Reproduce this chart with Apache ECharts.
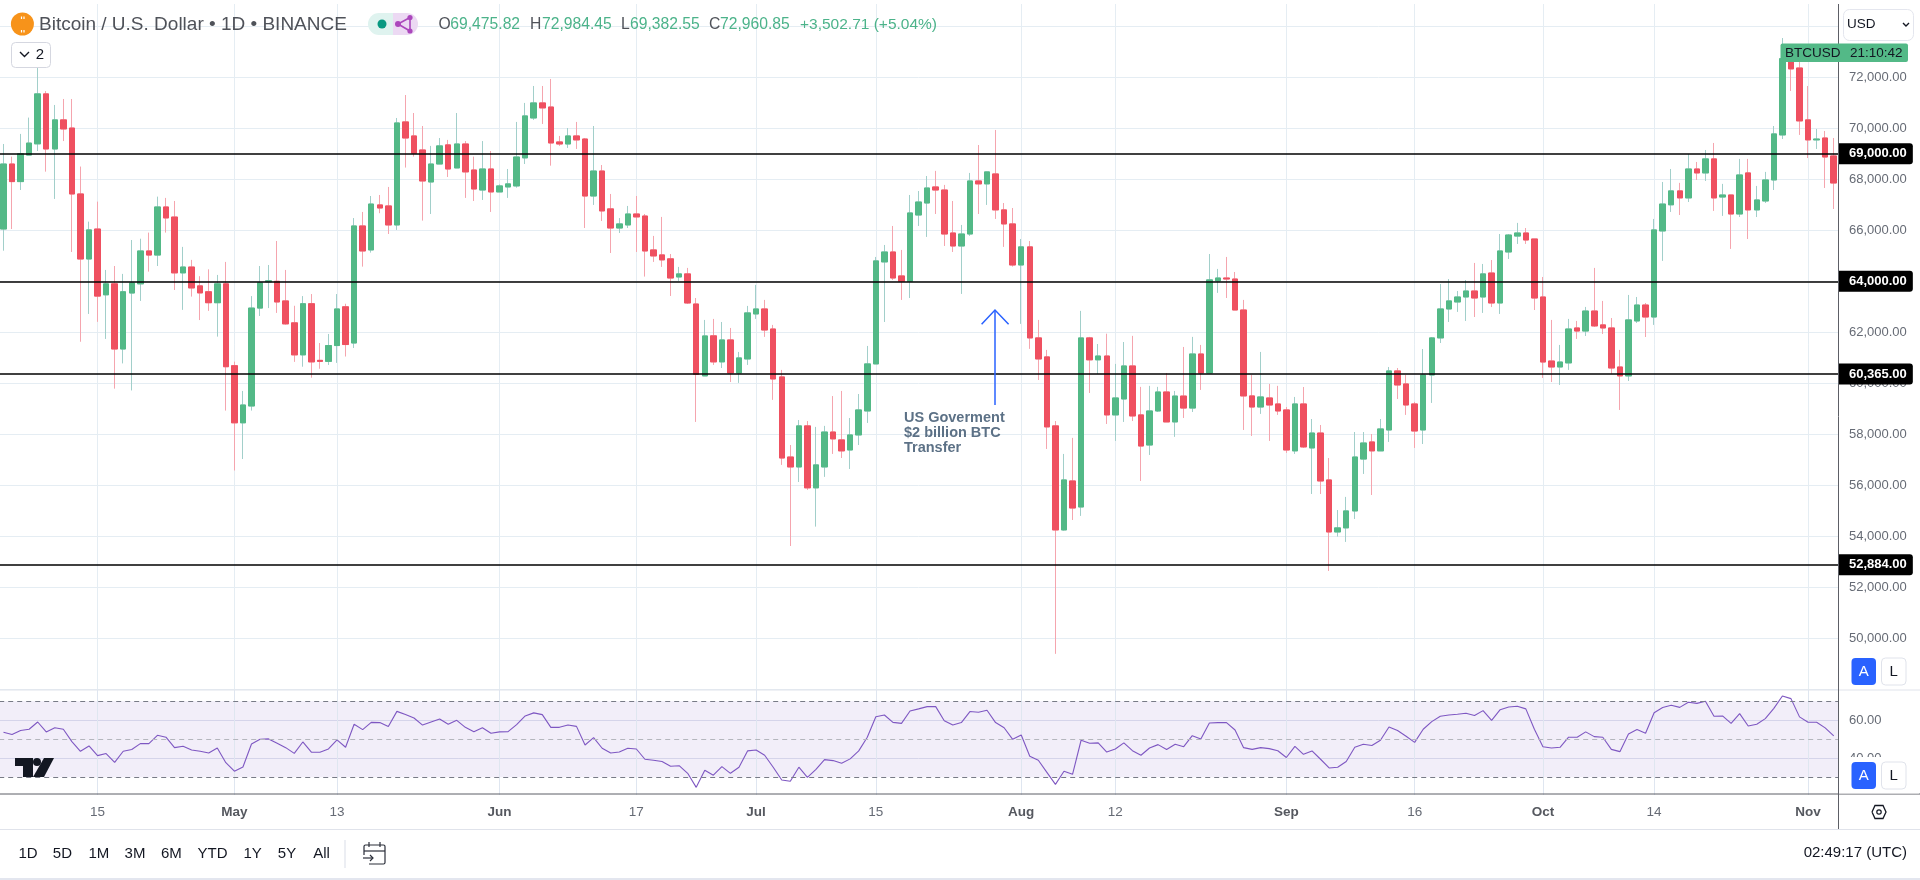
<!DOCTYPE html>
<html><head><meta charset="utf-8">
<style>html,body{margin:0;padding:0;background:#fff}#c{width:1920px;height:880px}</style>
<script src="https://cdn.jsdelivr.net/npm/echarts@6/dist/echarts.min.js"></script>
</head><body><div id="c"></div>
<script>
const startDate = '2024-04-04';
const opens = [
66050,68600,67910,68950,69390,71350,69190,70330,70010,67425,
64875,66050,63470,63900,61345,63540,63900,65190,65030,66915,
66520,64330,64560,63820,63590,63160,63900,60690,58450,59110,
62950,63980,64000,63230,62370,61115,63120,60900,60860,61480,
63000,61580,66170,65230,66995,66955,66210,70250,69700,69150,
67895,68600,69350,68445,69385,68365,67580,68405,67505,67700,
67740,68840,70405,70995,70835,69465,69385,69700,69580,67345,
68325,66840,66090,66210,66640,66560,65230,65035,64880,64170,
64290,63110,60290,61860,60840,61700,60405,60955,62720,62915,
62130,60250,57110,56720,58330,55900,56720,58090,57780,57385,
57975,58915,60760,64760,65150,64210,64000,66600,67070,67700,
67580,65895,65385,65855,67935,67820,68210,66800,66250,64640,
65350,61780,61035,58330,54250,56170,55150,61780,60920,61070,
58760,59385,60680,58760,57580,58915,59660,58485,59500,59030,
61150,60405,64015,64130,64090,62875,59505,59070,59425,59190,
58955,57350,59190,57465,58050,56210,54170,54330,54995,57030,
57700,57350,58170,60485,59975,59190,58170,60325,61780,62915,
63190,63385,63620,63385,64325,63150,65150,65775,65895,65660,
63385,60875,60640,60800,62170,62050,62835,62290,62170,60640,
60290,62445,63070,62600,65975,67000,67545,67270,68405,68250,
68800,67305,67385,66640,68250,66800,67150,67975,69740,72730,
72365,70330,69545,69620,68915];
const closes = [
68600,67910,69000,69420,71350,69190,70330,69975,67425,64875,
66015,63420,63900,61345,63590,63935,65190,65030,66915,66485,
64330,64560,63740,63545,63160,63900,60650,58450,59150,62950,
63940,64020,63190,62330,61115,63120,60840,60860,61480,62915,
61520,66170,65190,67030,66875,66210,70210,69620,69020,67935,
68600,69310,68405,69385,68290,67620,68405,67505,67740,67820,
68875,70485,70995,70800,69425,69385,69700,69545,67345,68325,
66760,66090,66250,66640,66525,65190,64995,64840,64130,64290,
63150,60355,61857,60840,61700,60405,60995,62760,62915,62090,
60170,57070,56720,58330,55900,56800,58090,57820,57350,57975,
58955,60760,64800,65150,64130,64000,66680,67110,67660,67580,
65855,65385,65855,67935,67820,68290,66800,66250,64640,65350,
61780,60955,58290,54250,56210,55110,61780,60920,61070,58760,
59425,60680,58720,57540,58915,59660,58485,59500,59030,61150,
60405,64055,64130,64090,62875,59505,59070,59465,59150,58915,
57385,59190,57505,58050,56170,54170,54330,54995,57110,57660,
57350,58210,60485,59935,59150,58130,60325,61780,62915,63230,
63385,63620,63345,64290,63150,65190,65815,65895,65620,63345,
60835,60640,60835,62130,62050,62835,62250,62170,60600,60290,
62485,63070,62600,66015,67030,67545,67270,68405,68250,68800,
67270,67385,66640,68170,66800,67190,67975,69780,72730,72330,
70290,69545,69580,68875,67855];
const highs = [
69385,68890,69780,70420,72390,71460,70915,71150,71150,68500,
66340,67125,64445,64600,64290,65620,65670,65910,67320,67270,
67150,65350,64840,64200,64470,64250,64760,60850,59700,63420,
64600,64640,65580,64445,63040,63420,63500,61580,61935,63500,
63120,66480,66720,67345,67385,67700,70405,71305,70600,70090,
69310,69620,69545,70600,69500,68890,69500,69110,67800,68405,
70250,70995,71660,71660,71935,69700,70010,70250,69620,70090,
68560,67425,66480,66955,67345,66640,65780,66525,65070,64565,
64525,63345,62485,62525,62405,62170,61230,63035,63860,63270,
62290,60525,57580,58560,58520,58290,58330,59500,59700,58640,
59580,61465,64955,65425,66170,65230,67385,67540,68130,68330,
67780,67150,66210,68250,69345,68300,69935,67070,66875,65660,
65580,62485,61310,58520,57230,57860,62840,61820,61540,61945,
60760,61620,61860,59860,59900,59860,60405,59700,61425,61820,
61505,65070,64485,64955,64365,63270,60330,61230,59975,59900,
59070,59465,59855,58600,58365,57070,55030,55545,58090,58090,
58010,58600,60640,60600,60325,59270,61345,61815,63895,64090,
63620,64050,64720,64680,64835,65855,65855,66290,66090,65660,
64170,62485,61505,62525,62445,62995,64525,63230,62560,61310,
63465,63385,63150,66445,67895,68405,67860,68995,68680,69150,
69425,67820,67385,68800,68800,67740,68290,70090,73540,72800,
72615,71660,69975,69895,69620];
const lows = [
65200,66050,67580,68950,69110,68300,67230,69500,65150,61630,
62720,62410,61740,59790,60780,59720,63230,64380,64600,65910,
63660,62880,63400,62480,62840,61830,58930,56580,57030,58930,
62640,62950,62760,62300,60840,60650,60220,60570,60720,60800,
61050,61385,64575,65125,66670,65855,66015,68460,68890,66380,
66640,68600,68090,68445,67270,67150,67190,66720,67505,67270,
67670,68600,70330,70170,68535,69310,69230,69190,66090,66995,
66365,65110,65895,66090,65150,64185,64760,64565,63425,64015,
63110,58485,60290,60720,60600,60050,60015,60720,62525,61820,
59350,56800,53620,56130,55820,54380,56330,57230,57070,56640,
57580,58445,60760,62405,64050,63270,63345,66170,65740,66640,
65385,65150,63505,65780,66640,66995,66445,65350,64575,62330,
61350,60130,57425,49390,54220,54640,54800,59620,60365,58405,
57740,58485,58520,56170,57190,58875,58485,57900,58640,58875,
59740,60405,63545,63345,62875,58170,57935,58800,57740,58760,
57270,57230,57465,55660,55660,52640,53990,53780,54680,56445,
55620,57350,57700,59385,58760,57465,57620,59230,61580,62405,
62800,62445,62600,62760,62990,62720,64875,65465,65465,62875,
60210,60050,59935,60525,61740,61855,62210,61935,60365,58955,
60090,62365,61815,62290,64800,66720,66600,67110,67975,67935,
66760,66565,65270,66520,65660,66520,67070,67580,69580,71465,
69740,68835,69190,67660,66835];
const rsi = [
53.7,52.5,54.6,55.3,59.1,53.9,56.1,55.3,48.8,43.7,
46.5,41.4,42.5,37.9,43.7,44.6,47.7,47.7,52.1,51.1,
45.6,46.3,44.4,43.7,42.8,45.4,37.7,33.2,35.4,47.5,
50.0,50.2,47.9,45.6,42.6,48.6,43.2,43.2,44.9,49.7,
45.8,57.9,55.1,58.9,58.8,56.7,64.7,63.0,61.2,57.5,
59.1,60.7,57.9,60.0,56.3,54.0,56.1,53.2,53.9,54.0,
57.7,62.3,63.9,63.0,56.3,56.3,57.5,56.8,47.0,50.9,
45.3,42.8,43.3,45.3,44.9,39.5,39.0,38.3,35.8,36.1,
32.1,24.7,33.7,31.1,35.6,32.1,35.3,43.9,44.4,41.6,
35.3,28.6,27.9,35.3,30.0,34.2,39.3,38.8,37.4,39.7,
43.9,51.1,61.9,62.8,58.9,58.4,64.9,66.0,67.2,67.2,
59.8,57.5,58.8,64.6,64.2,65.3,58.8,56.1,50.0,52.3,
41.1,39.0,32.6,26.3,33.2,31.6,49.5,47.9,48.1,43.3,
44.9,48.1,44.0,41.6,45.4,47.2,44.6,47.4,46.1,51.9,
50.2,58.6,58.8,58.8,54.9,45.6,44.7,45.6,45.1,44.0,
40.4,46.3,42.1,43.9,39.5,34.9,35.3,38.3,45.8,47.4,
46.7,49.5,56.5,54.6,51.6,48.4,55.3,59.3,62.1,62.8,
63.2,63.7,62.5,65.1,60.0,65.6,67.0,67.4,66.0,55.3,
46.1,45.4,45.8,51.1,51.1,53.9,51.4,51.1,44.7,43.5,
52.8,55.1,53.2,64.0,66.7,67.9,66.8,69.5,68.9,70.0,
62.1,62.3,58.4,63.5,57.0,57.9,60.9,66.3,72.8,71.4,
61.8,59.0,59.0,56.0,51.8];
const priceLevels = [69000, 64000, 60365, 52884];
const tickDates = ['2024-04-15','2024-05-01','2024-05-13','2024-06-01','2024-06-17','2024-07-01','2024-07-15','2024-08-01','2024-08-12','2024-09-01','2024-09-16','2024-10-01','2024-10-14','2024-11-01'];
const tickLabels = ['15','May','13','Jun','17','Jul','15','Aug','12','Sep','16','Oct','14','Nov'];
const rangeButtons = ['1D','5D','1M','3M','6M','YTD','1Y','5Y','All'];

const FONT = '"Liberation Sans", Arial, sans-serif';
const GREEN='#53b987', RED='#ef5060', GREEN_W='#a2cfca', RED_W='#f5a5ae';
const GRIDC='#e5edf3', AXC='#666b75', DARK='#131722', LINE='#e0e3eb';

const categories = opens.map((_,i)=>{const d=new Date(Date.parse(startDate+'T00:00:00Z')+i*864e5);return d.toISOString().slice(0,10);});
const tickAt = {}; tickDates.forEach((d,i)=>{tickAt[d]=tickLabels[i];});
const isTick = (i)=>tickAt[categories[i]]!==undefined;
const fullData = opens.map((o,i)=>[o,closes[i],lows[i],highs[i]]);
const bodyData = opens.map((o,i)=>[o,closes[i],Math.min(o,closes[i]),Math.max(o,closes[i])]);
const money = (v)=>v.toLocaleString('en-US',{minimumFractionDigits:2,maximumFractionDigits:2});

function T(x,y,text,fs,fill,opt){opt=opt||{};return {type:'text',z:110,silent:true,style:{x,y,text,fill,font:(opt.w||'normal')+' '+fs+'px '+FONT,textAlign:opt.a||'left',textVerticalAlign:'middle'}};}
function R(x,y,w,h,fill,opt){opt=opt||{};return {type:'rect',z:opt.z||100,silent:true,shape:{x,y,width:w,height:h,r:opt.r||0},style:{fill,stroke:opt.s||null,lineWidth:opt.lw||1}};}
function L(x1,y1,x2,y2,c,w,z){return {type:'line',z:z||105,silent:true,shape:{x1,y1,x2,y2},style:{stroke:c,lineWidth:w||1}};}
function P(pts,c,w,fill){return {type:fill?'polygon':'polyline',z:111,silent:true,shape:{points:pts},style:fill?{fill:c}:{stroke:c,lineWidth:w||1.5,fill:null}};}
function C(x,y,r,fill,s){return {type:'circle',z:111,silent:true,shape:{cx:x,cy:y,r},style:{fill,stroke:s||null}};}

const rangeX=[28,62.4,98.8,135,171.4,212.6,252.7,287,321.6];
const g=[
 R(0,0,1838,4,'#fff',{z:50}),
 R(0,795,1838,3,'#fff',{z:50}),
 L(0,690,1920,690,LINE,1,60), L(0,794,1920,794,'#5d5f66',1,60), L(0,829.5,1920,829.5,LINE,1.2,60),
 R(0,878,1920,2,'#e3e6ef',{z:60}),
 L(1838.5,4,1838.5,829,'#5d5f66',1,60),
 C(22.4,24,11.5,'#f7931a'),
 T(22.6,24.5,'B',14,'#fff',{a:'center',w:'bold'}),
 L(21.5,16.5,21.5,19,'#fff',1.2,112), L(24,16.5,24,19,'#fff',1.2,112), L(21.5,30,21.5,32.5,'#fff',1.2,112), L(24,30,24,32.5,'#fff',1.2,112),
 T(39,25,'Bitcoin / U.S. Dollar • 1D • BINANCE',19,'#4f5259'),
 R(368,13,25,22,'#dff3ef',{r:[11,0,0,11]}),
 R(393,13,25,22,'#ecd9f3',{r:[0,11,11,0]}),
 C(382,24,4.5,'#089981'),
 P([[410,17.5],[398,24],[410,31],[410,17.5]],'#ab47bc',1.6), C(398,24,3,'#ab47bc'), C(410,17.5,2.6,'#ab47bc'), C(410,31,2.6,'#ab47bc'),
 T(438.5,25,'O',15.7,'#4f5259'), T(450.3,25,'69,475.82',15.7,'#4cb38a'),
 T(530,25,'H',15.7,'#4f5259'), T(542,25,'72,984.45',15.7,'#4cb38a'),
 T(621,25,'L',15.7,'#4f5259'), T(630,25,'69,382.55',15.7,'#4cb38a'),
 T(709,25,'C',15.7,'#4f5259'), T(720,25,'72,960.85',15.7,'#4cb38a'),
 T(800,25,'+3,502.71 (+5.04%)',15.5,'#4cb38a'),
 R(11.5,42.5,39,25,'#fff',{r:4,s:'#d5d7e0'}),
 P([[20,52],[24.5,56.5],[29,52]],DARK,1.4),
 T(40,55,'2',15,DARK,{a:'center'}),
 R(1843.5,9.5,70,31,'#fff',{r:6,s:'#e4e6ee'}),
 T(1847,24,'USD',13.5,DARK),
 P([[1903,23],[1906,26],[1909,23]],DARK,1.4),
 R(1780.5,43.5,57.5,18.5,GREEN,{r:[2,0,0,2]}),
 R(1838,43.5,70,18.5,GREEN,{r:[0,2,2,0]}),
 T(1785,52.8,'BTCUSD',13.5,DARK),
 T(1850,52.8,'21:10:42',13.5,DARK),
 L(995,310,995,405,'#2962ff',1.5,106),
 P([[981.6,324.3],[995,310],[1008.6,324.3]],'#2962ff',1.5),
 T(904,417.7,'US Goverment',14.5,'#5c7186',{w:'bold'}),
 T(904,432.7,'$2 billion BTC',14.5,'#5c7186',{w:'bold'}),
 T(904,448,'Transfer',14.5,'#5c7186',{w:'bold'}),
 R(1839,655,80,33,'#fff',{z:95}),
 R(1851.5,658,24.5,27,'#2962ff',{r:4}), T(1863.7,672,'A',15,'#fff',{a:'center'}),
 R(1881.5,658,24.5,27,'#fff',{r:4,s:LINE}), T(1893.7,672,'L',15,DARK,{a:'center'}),
 R(1839,757,80,36.5,'#fff',{z:95}),
 R(1851.5,762,24.5,27,'#2962ff',{r:4}), T(1863.7,776,'A',15,'#fff',{a:'center'}),
 R(1881.5,762,24.5,27,'#fff',{r:4,s:LINE}), T(1893.7,776,'L',15,DARK,{a:'center'}),
 P([[1872,812],[1875,805.5],[1883,805.5],[1886,812],[1883,818.5],[1875,818.5],[1872,812]],DARK,1.3),
 {type:'circle',z:111,silent:true,shape:{cx:1879,cy:812,r:2.2},style:{fill:null,stroke:DARK,lineWidth:1.2}},
 P([[15,758],[33,758],[33,777],[23,777],[23,766],[15,766]],DARK,1,true),
 C(37,762,4,DARK),
 P([[44,758],[54,758],[44,777],[33,777]],DARK,1,true),
 L(345,840,345,868,LINE,1.2,60),
 {type:'rect',z:111,silent:true,shape:{x:364,y:845,width:21,height:19,r:1.5},style:{fill:null,stroke:'#2a2e39',lineWidth:1.2}},
 L(364,851,385,851,'#2a2e39',1.2,111), L(369,842,369,847,'#2a2e39',1.2,111), L(380,842,380,847,'#2a2e39',1.2,111),
 R(361,855,8,10,'#fff',{z:111}),
 P([[363,858],[373,858]],'#2a2e39',1.2), P([[370,855],[373,858],[370,861]],'#2a2e39',1.2),
 T(1907,853,'02:49:17 (UTC)',15,DARK,{a:'right'})
];
rangeButtons.forEach((t,i)=>g.push(T(rangeX[i],853.5,t,15,DARK,{a:'center'})));

const vLines=(color)=>({silent:true,symbol:'none',animation:false,z:1,label:{show:false},lineStyle:{color,width:1,type:'solid'},data:tickDates.map(d=>({xAxis:d}))});

const chart=echarts.init(document.getElementById('c'),null,{renderer:'canvas',width:1920,height:880});
chart.setOption({
 animation:false,backgroundColor:'#fff',
 textStyle:{fontFamily:FONT},
 grid:[{left:-0.8,width:1838.8,top:-24.7,height:714,containLabel:false,outerBoundsMode:'none'},{left:-0.8,width:1838.8,top:689.9,height:106.4,containLabel:false,outerBoundsMode:'none'}],
 xAxis:[
  {type:'category',gridIndex:0,data:categories,boundaryGap:true,axisLine:{show:false},axisTick:{show:false},axisLabel:{show:false},splitLine:{show:false}},
  {type:'category',gridIndex:1,data:categories,boundaryGap:true,axisLine:{show:false},axisTick:{show:false},splitLine:{show:false},
   axisLabel:{show:true,interval:(i)=>isTick(i),margin:9,fontSize:13.5,color:AXC,hideOverlap:false,
    formatter:(v)=>{const t=tickAt[v];if(!t)return '';return /[A-Za-z]/.test(t)?'{m|'+t+'}':t;},
    rich:{m:{fontWeight:'bold',fontSize:13.5,color:'#55585f'}}}}
 ],
 yAxis:[
  {type:'value',gridIndex:0,position:'right',min:48000,max:76000,interval:2000,
   axisLine:{show:false},axisTick:{show:false},
   axisLabel:{margin:11,fontSize:13,color:AXC,formatter:(v)=>(v>=50000&&v<=72000)?money(v):''},
   splitLine:{show:true,lineStyle:{color:GRIDC,width:1}}},
  {type:'value',gridIndex:1,position:'right',min:20,max:76,interval:20,
   axisLine:{show:false},axisTick:{show:false},
   axisLabel:{margin:11,fontSize:13,color:AXC,formatter:(v)=>(v===40||v===60)?v.toFixed(2):''},
   splitLine:{show:true,showMinLine:false,showMaxLine:false,lineStyle:{color:'#dfe3ef',width:1}}}
 ],
 series:[
  {type:'line',name:'priceTimeGrid',xAxisIndex:0,yAxisIndex:0,z:1,data:[],silent:true,markLine:vLines(GRIDC)},
  {type:'line',name:'rsiTimeGrid',xAxisIndex:1,yAxisIndex:1,z:1,data:[],silent:true,markLine:vLines('#dfe6f0')},
  {type:'candlestick',name:'wicks',xAxisIndex:0,yAxisIndex:0,z:2,barWidth:6,data:fullData,silent:true,
   itemStyle:{color:GREEN,color0:RED,borderColor:GREEN_W,borderColor0:RED_W,borderWidth:1}},
  {type:'candlestick',name:'bodies',xAxisIndex:0,yAxisIndex:0,z:3,barWidth:6,data:bodyData,silent:true,
   itemStyle:{color:GREEN,color0:RED,borderColor:GREEN,borderColor0:RED,borderWidth:1},
   markLine:{silent:true,symbol:'none',animation:false,z:4,precision:0,
    lineStyle:{color:'#000',width:1.5,type:'solid'},
    label:{show:true,position:'end',distance:1,formatter:(p)=>money(p.value),color:'#fff',fontWeight:'bold',fontSize:13,fontFamily:FONT,
     backgroundColor:'#000',padding:[4,6,4,10],borderRadius:[0,3,3,0]},
    data:priceLevels.map(v=>({yAxis:v}))}},
  {type:'line',name:'RSI',xAxisIndex:1,yAxisIndex:1,z:3,data:rsi,showSymbol:false,symbol:'none',smooth:false,silent:true,
   lineStyle:{color:'#7e57c2',width:1.1},
   markArea:{silent:true,itemStyle:{color:'rgba(126,87,194,0.1)'},data:[[{yAxis:70},{yAxis:30}]]},
   markLine:{silent:true,symbol:'none',animation:false,label:{show:false},
    data:[
     {yAxis:70,lineStyle:{color:'#787b86',type:[5,4],width:1}},
     {yAxis:50,lineStyle:{color:'#b4b6bd',type:[5,4],width:1}},
     {yAxis:30,lineStyle:{color:'#787b86',type:[5,4],width:1}}]}}
 ],
 graphic:{elements:g}
});
</script></body></html>
